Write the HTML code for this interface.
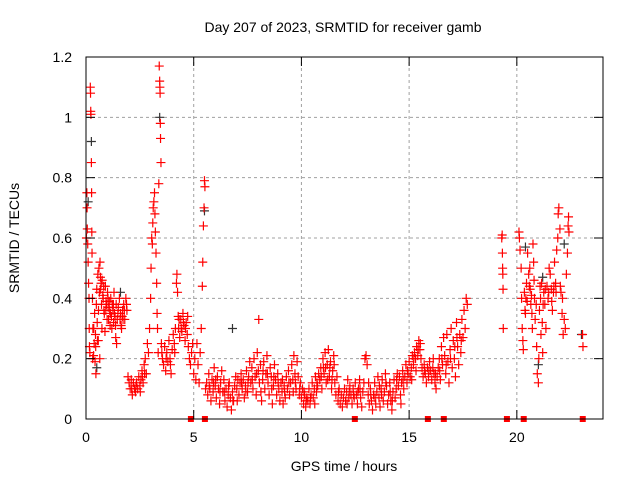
<!DOCTYPE html>
<html><head><meta charset="utf-8"><style>
body{margin:0;background:#fff;font-family:"Liberation Sans",sans-serif}
svg{display:block}
text{font-family:"Liberation Sans",sans-serif;font-size:14px;fill:#000}
</style></head><body>
<svg id="chart" width="640" height="480">
<rect width="640" height="480" fill="#fff"/>
<g id="grid"></g>
<g id="pts"></g>
<rect x="86" y="57" width="517" height="362" fill="none" stroke="#000" stroke-width="1"/>
<g id="ticks"></g>
<text x="343" y="32" text-anchor="middle">Day 207 of 2023, SRMTID for receiver gamb</text>
<text x="344" y="471" text-anchor="middle">GPS time / hours</text>
<text x="19" y="238" text-anchor="middle" transform="rotate(-90 19 238)">SRMTID / TECUs</text>
</svg>
<script>
const xTicks=[0,5,10,15,20];
const yTicks=[0,0.2,0.4,0.6,0.8,1,1.2];
const yTickLabels=["0","0.2","0.4","0.6","0.8","1","1.2"];
const zeroHours=[4.87,5.52,12.48,15.87,16.61,19.54,20.32,23.06];
const blackSeries=[[0.1,0.72],[0.25,0.92],[0.5,0.17],[1.6,0.42],[3.42,1.0],[5.5,0.69],[6.8,0.3],[20.4,0.57],[21.2,0.47],[22.2,0.58],[23.0,0.28],[21.0,0.18]];
const redSeries=[
[0.02,0.6],[0.04,0.75],[0.05,0.7],[0.06,0.63],[0.08,0.58],[0.1,0.52],[0.12,0.45],[0.14,0.4],[0.15,0.3],[0.16,0.24],[0.18,0.22],[0.2,1.1],[0.21,1.08],[0.22,1.02],[0.23,1.01],[0.25,0.85],[0.26,0.75],[0.27,0.62],[0.28,0.55],[0.3,0.4],[0.31,0.2],[0.32,0.3],[0.35,0.21],[0.38,0.25],[0.4,0.35],[0.42,0.19],[0.44,0.28],[0.46,0.15],[0.48,0.38],[0.5,0.43],[0.52,0.32],[0.55,0.48],[0.57,0.26],[0.6,0.5],[0.62,0.42],[0.64,0.2],[0.65,0.52],[0.67,0.47],[0.7,0.45],[0.72,0.38],[0.74,0.3],[0.75,0.46],[0.78,0.41],[0.8,0.4],[0.83,0.36],[0.85,0.35],[0.88,0.29],[0.9,0.44],[0.93,0.39],[0.95,0.38],[0.98,0.33],[1.0,0.42],[1.03,0.37],[1.05,0.33],[1.08,0.39],[1.1,0.36],[1.12,0.31],[1.15,0.4],[1.18,0.34],[1.2,0.3],[1.22,0.38],[1.25,0.36],[1.28,0.32],[1.3,0.42],[1.32,0.35],[1.35,0.34],[1.38,0.27],[1.4,0.38],[1.42,0.25],[1.45,0.33],[1.5,0.37],[1.55,0.4],[1.6,0.35],[1.63,0.31],[1.65,0.3],[1.7,0.36],[1.72,0.33],[1.75,0.38],[1.8,0.33],[1.85,0.4],[1.9,0.36],
[0.68,0.43],[0.82,0.44],[0.92,0.36],[1.02,0.4],[1.13,0.35],[1.27,0.38],[1.37,0.31],[1.48,0.35],[1.58,0.33],[1.68,0.34],[1.78,0.36],[1.88,0.38],[0.58,0.36],[0.45,0.24],[0.36,0.3],[0.53,0.26],
[1.95,0.14],[2.0,0.12],[2.05,0.1],[2.1,0.13],[2.15,0.08],[2.2,0.12],[2.25,0.1],[2.3,0.09],[2.35,0.12],[2.4,0.1],[2.45,0.14],[2.5,0.11],[2.55,0.13],[2.6,0.16],[2.65,0.12],[2.7,0.18],[2.75,0.2],[2.8,0.15],[2.85,0.25],[2.9,0.22],[2.95,0.3],[3.0,0.4],[3.02,0.5],[3.05,0.6],[3.08,0.58],[3.1,0.65],[3.12,0.7],[3.15,0.72],[3.18,0.75],[3.2,0.68],[3.22,0.62],[3.25,0.55],[3.28,0.45],[3.3,0.35],[3.32,0.3],[3.35,0.22],[3.38,0.78],[3.4,1.17],[3.42,1.12],[3.43,1.1],[3.44,1.08],[3.45,0.98],[3.46,0.93],[3.48,0.85],[3.5,0.25],[3.55,0.2],[3.6,0.18],[3.65,0.24],[3.7,0.16],[3.75,0.22],[3.8,0.19],[3.85,0.26],[3.9,0.2],[3.95,0.15],[4.0,0.23],[4.05,0.28],[4.1,0.25],[4.15,0.3],[4.2,0.45],[4.22,0.48],[4.25,0.42],[4.28,0.34],[4.3,0.3],[4.35,0.27],[4.4,0.33],[4.45,0.29],[4.5,0.35],[4.55,0.31],[4.6,0.26],[4.65,0.32],[4.7,0.28],[4.75,0.24],[4.8,0.2],[4.85,0.18],[4.9,0.22],[4.95,0.25],[5.0,0.15],[5.05,0.2],[5.1,0.13],[5.15,0.25],[5.2,0.18],[5.25,0.12],[5.3,0.22],[5.35,0.3],[5.4,0.44],[5.42,0.52],[5.45,0.64],[5.48,0.7],[5.5,0.79],[5.52,0.77],[5.55,0.1],
[2.12,0.1],[2.32,0.11],[2.52,0.09],[2.62,0.14],[2.72,0.15],[3.52,0.22],[3.72,0.2],[3.92,0.18],[4.12,0.22],[4.32,0.33],[4.42,0.3],[4.52,0.32],[4.62,0.3],[4.72,0.34],
[5.6,0.12],[5.65,0.08],[5.7,0.15],[5.75,0.1],[5.8,0.06],[5.85,0.13],[5.9,0.09],[5.95,0.17],[6.0,0.11],[6.05,0.07],[6.1,0.14],[6.15,0.1],[6.2,0.05],[6.25,0.12],[6.3,0.16],[6.35,0.09],[6.4,0.13],[6.45,0.06],[6.5,0.1],[6.55,0.04],[6.6,0.08],[6.65,0.12],[6.7,0.07],[6.75,0.03],[6.8,0.09],[6.85,0.06],[6.9,0.11],[6.95,0.14],[7.0,0.1],[7.05,0.13],[7.1,0.08],[7.15,0.12],[7.2,0.15],[7.25,0.1],[7.3,0.13],[7.35,0.07],[7.4,0.11],[7.45,0.16],[7.5,0.09],[7.55,0.14],[7.6,0.19],[7.65,0.12],[7.7,0.17],[7.75,0.1],[7.8,0.2],[7.85,0.14],[7.9,0.08],[7.95,0.22],[8.0,0.16],[8.02,0.33],[8.05,0.12],[8.1,0.18],[8.15,0.06],[8.2,0.13],[8.25,0.19],[8.3,0.1],[8.35,0.15],[8.4,0.21],[8.45,0.12],[8.5,0.08],[8.55,0.17],[8.6,0.14],[8.65,0.05],[8.7,0.11],[8.75,0.18],[8.8,0.13],[8.85,0.08],[8.9,0.15],[8.95,0.1],[9.0,0.06],[9.05,0.12],[9.1,0.09],[9.15,0.05],[9.2,0.11],[9.25,0.07],[9.3,0.14],[9.35,0.1],[9.4,0.16],[9.45,0.08],[9.5,0.12],[9.55,0.18],[9.6,0.13],[9.65,0.21],[9.7,0.15],[9.75,0.1],[9.8,0.19],[9.85,0.14],[9.9,0.08],[9.95,0.12],[10.0,0.07],[10.05,0.1],[10.1,0.05],[10.15,0.08],[10.2,0.04],[10.25,0.07],[10.3,0.06],[10.35,0.1],[10.4,0.05],[10.45,0.08],[10.5,0.12],[10.55,0.07],[10.6,0.1],[10.65,0.14],[10.7,0.09],[10.75,0.11],[10.8,0.15],[10.85,0.13],[10.9,0.17],[10.95,0.1],[11.0,0.2],[11.05,0.15],[11.1,0.22],[11.15,0.12],[11.2,0.18],[11.25,0.23],[11.3,0.14],[11.35,0.19],[11.4,0.1],[11.45,0.16],[11.5,0.21],[11.55,0.12],[11.6,0.08],[11.65,0.14],[11.7,0.06],[11.75,0.1],[11.8,0.05],[11.85,0.08],[11.9,0.04],[11.95,0.07],[12.0,0.1],[12.05,0.06],[12.1,0.09],[12.15,0.13],[12.2,0.07],[12.25,0.11],[12.3,0.08],[12.35,0.05],[12.4,0.1],[12.45,0.07],[12.5,0.12],[12.55,0.08],[12.6,0.05],[12.65,0.1],[12.7,0.13],[12.75,0.07],[12.8,0.04],[12.85,0.09],[12.9,0.12],[12.95,0.2],[13.0,0.21],[13.05,0.18],[13.1,0.08],[13.15,0.05],[13.2,0.1],[13.25,0.06],[13.3,0.03],[13.35,0.08],[13.4,0.12],[13.45,0.05],[13.5,0.09],[13.55,0.14],[13.6,0.07],[13.65,0.04],[13.7,0.1],[13.75,0.13],[13.8,0.06],[13.85,0.09],[13.9,0.15],[13.95,0.11],[14.0,0.05],[14.05,0.08],[14.1,0.12],[14.15,0.06],[14.2,0.03],[14.25,0.09],[14.3,0.13],[14.35,0.07],[14.4,0.1],[14.45,0.15],[14.5,0.11],[14.55,0.14],[14.6,0.08],[14.65,0.12],[14.7,0.16],[14.75,0.1],[14.8,0.14],[14.85,0.18],[14.9,0.12],[14.95,0.15],[15.0,0.19],[15.05,0.14],[15.1,0.17],[15.15,0.21],[15.2,0.18],[15.25,0.22],[15.3,0.2],[15.35,0.24],[15.4,0.21],[15.45,0.26],[15.5,0.23],[15.55,0.2],[15.6,0.17],[15.65,0.14],[15.7,0.18],[15.75,0.15],[15.8,0.12],[15.85,0.17],[15.9,0.14],[15.95,0.19],[16.0,0.16],[16.05,0.13],[16.1,0.17],[16.15,0.15],[16.2,0.12],[16.25,0.1],[16.3,0.14],[16.35,0.17],[16.4,0.2],[16.45,0.13],[16.5,0.24],[16.55,0.18],[16.6,0.27],[16.65,0.21],[16.7,0.15],[16.75,0.28],[16.8,0.19],[16.85,0.12],[16.9,0.23],[16.95,0.3],[17.0,0.17],[17.05,0.26],[17.1,0.2],[17.15,0.14],[17.2,0.32],[17.25,0.24],[17.3,0.18],[17.35,0.28],[17.4,0.22],[17.45,0.33],[17.5,0.27],[17.55,0.36],[17.6,0.3],[17.65,0.4],[17.7,0.38],
[6.02,0.13],[6.42,0.09],[7.02,0.06],[7.52,0.12],[8.12,0.09],[8.62,0.1],[9.12,0.13],[9.62,0.09],[10.12,0.09],[10.62,0.05],[11.12,0.17],[11.22,0.13],[12.12,0.05],[12.62,0.09],[13.12,0.12],[13.62,0.11],[14.12,0.09],[14.62,0.05],[15.12,0.13],[15.32,0.16],[16.12,0.2],[16.42,0.16],[17.12,0.24],
[5.72,0.11],[5.92,0.12],[6.22,0.09],[6.62,0.11],[6.82,0.06],[7.22,0.12],[7.42,0.09],[7.72,0.13],[7.92,0.15],[8.22,0.16],[8.42,0.15],[8.72,0.14],[8.92,0.12],[9.22,0.09],[9.42,0.12],[9.72,0.12],[9.92,0.1],[10.22,0.06],[10.42,0.07],[10.72,0.12],[10.92,0.14],[11.02,0.17],[11.32,0.17],[11.42,0.13],[11.52,0.18],[11.72,0.09],[12.22,0.09],[12.42,0.08],[12.72,0.1],[13.22,0.08],[13.42,0.07],[13.72,0.08],[13.92,0.12],[14.22,0.06],[14.42,0.13],[14.72,0.13],[14.92,0.16],[15.22,0.2],[15.42,0.23],[15.52,0.25],[15.72,0.16],[15.92,0.16],[16.22,0.15],[16.52,0.2],[16.72,0.18],[16.92,0.2],[17.22,0.27],[17.42,0.26],
[19.3,0.6],[19.32,0.61],[19.33,0.55],[19.34,0.5],[19.35,0.48],[19.36,0.43],[19.37,0.3],[20.1,0.62],[20.12,0.6],[20.15,0.56],[20.2,0.5],[20.22,0.4],[20.25,0.3],[20.28,0.26],[20.3,0.23],[20.35,0.42],[20.38,0.36],[20.4,0.35],[20.45,0.45],[20.48,0.39],[20.5,0.55],[20.55,0.48],[20.6,0.5],[20.62,0.43],[20.65,0.38],[20.7,0.35],[20.72,0.3],[20.75,0.58],[20.78,0.52],[20.8,0.46],[20.85,0.33],[20.9,0.38],[20.92,0.24],[20.95,0.15],[21.0,0.12],[21.02,0.2],[21.05,0.36],[21.1,0.4],[21.12,0.28],[21.15,0.45],[21.18,0.32],[21.2,0.22],[21.25,0.42],[21.3,0.38],[21.35,0.3],[21.4,0.44],[21.45,0.4],[21.5,0.5],[21.55,0.48],[21.6,0.43],[21.65,0.36],[21.7,0.42],[21.75,0.52],[21.8,0.45],[21.85,0.56],[21.9,0.6],[21.92,0.68],[21.95,0.7],[22.0,0.63],[22.05,0.42],[22.1,0.35],[22.15,0.28],[22.2,0.33],[22.25,0.3],[22.3,0.48],[22.35,0.55],[22.38,0.64],[22.4,0.67],[22.42,0.62],[23.05,0.28],[23.07,0.24],
[20.42,0.4],[20.58,0.44],[20.68,0.41],[20.82,0.4],[21.08,0.44],[21.22,0.38],[21.32,0.43],[21.48,0.42],[21.62,0.39],[21.72,0.44],[21.82,0.42],[22.02,0.44],[22.12,0.4]
];
const X0=86,X1=603,Y0=419,Y1=57,XMAX=24,YMAX=1.2;
function xs(h){return X0+(X1-X0)*h/XMAX;}
function ys(v){return Y0-(Y0-Y1)*v/YMAX;}
const NS="http://www.w3.org/2000/svg";
function mk(tag,attrs,parent){const e=document.createElementNS(NS,tag);for(const k in attrs)e.setAttribute(k,attrs[k]);parent.appendChild(e);return e;}
const grid=document.getElementById('grid'),ticks=document.getElementById('ticks'),pts=document.getElementById('pts');
yTicks.forEach((v,i)=>{
  const y=ys(v);
  if(v>0&&v<YMAX){const g=mk('line',{x1:X0,x2:X1,y1:y,y2:y,stroke:'#a0a0a0','stroke-dasharray':'3,3'},grid);
  
  }
  mk('line',{x1:X0,x2:X0+9,y1:y,y2:y,stroke:'#000'},ticks);
  mk('line',{x1:X1,x2:X1-9,y1:y,y2:y,stroke:'#000'},ticks);
  const t=mk('text',{x:72,y:y+5,'text-anchor':'end'},ticks);t.textContent=yTickLabels[i];
  
  
});
xTicks.forEach(h=>{
  const x=xs(h);
  if(h>0){const g=mk('line',{x1:x,x2:x,y1:Y0,y2:Y1,stroke:'#a0a0a0','stroke-dasharray':'3,3'},grid);
  
  }
  mk('line',{x1:x,x2:x,y1:Y0,y2:Y0-9,stroke:'#000'},ticks);
  mk('line',{x1:x,x2:x,y1:Y1,y2:Y1+9,stroke:'#000'},ticks);
  const t=mk('text',{x:x,y:442,'text-anchor':'middle'},ticks);t.textContent=String(h);
  
  
});
function plus(p,color){
  const x=xs(p[0]),y=ys(p[1]);
  const e=mk('path',{d:`M${x-4.5} ${y}H${x+4.5}M${x} ${y-4.5}V${y+4.5}`,stroke:color,'stroke-width':1.2,fill:'none'},pts);
  return e;
}
blackSeries.forEach(p=>{const e=plus(p,'#333');
  
  });
redSeries.forEach(p=>{const e=plus(p,'#ff0000');
  
  });
zeroHours.forEach(h=>{const e=mk('rect',{x:xs(h)-3,y:ys(0)-3,width:6,height:6,fill:'#ff0000'},pts);
  
  });
</script>
</body></html>
